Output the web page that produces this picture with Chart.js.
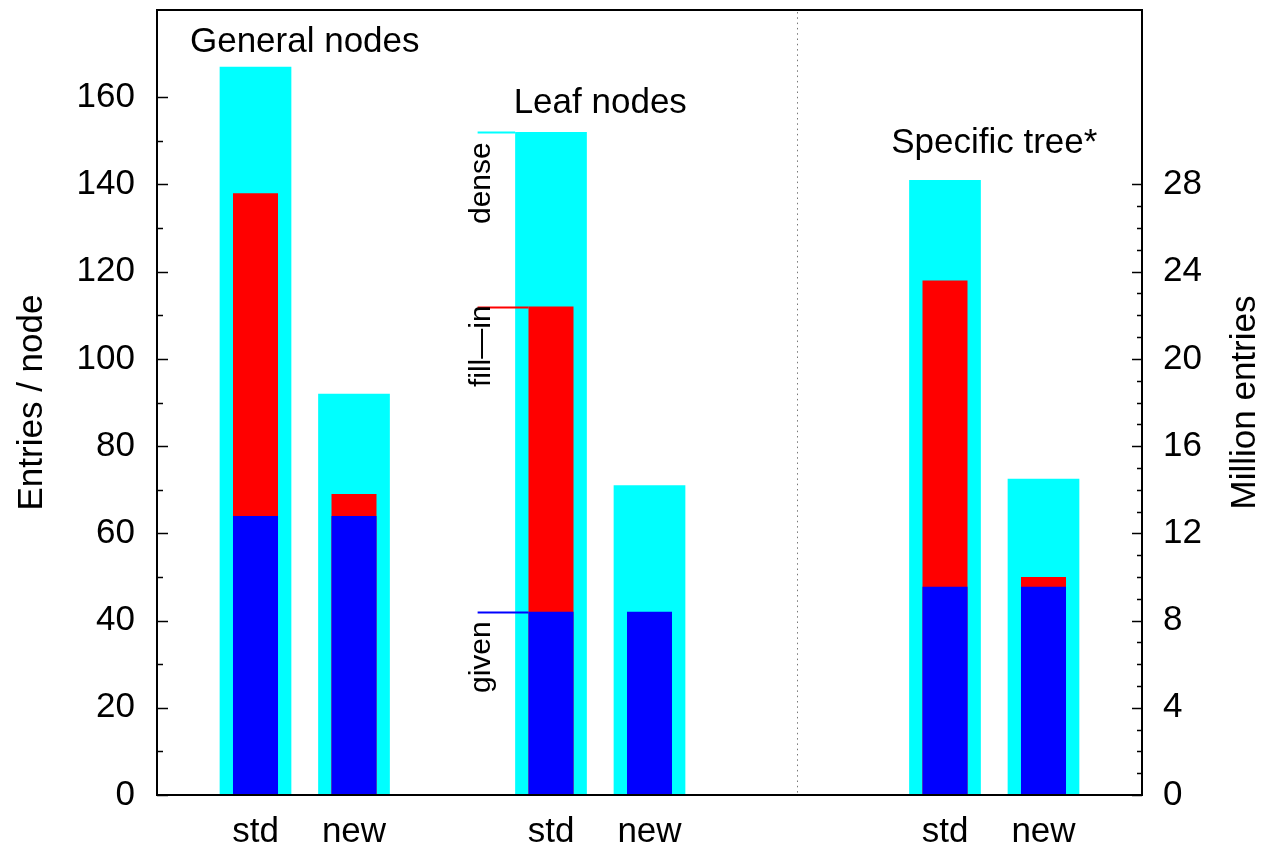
<!DOCTYPE html>
<html>
<head>
<meta charset="utf-8">
<script src="https://cdn.jsdelivr.net/npm/chart.js@4/dist/chart.umd.min.js"></script>
<style>
  html, body { margin: 0; padding: 0; background: #ffffff; }
  canvas { display: block; }
</style>
</head>
<body>
<canvas id="c" width="1263" height="850"></canvas>
<script>
// Category slots along the x axis (blank slots keep the groups apart)
const slotLabels = ['', 'std', 'new', '', 'std', 'new', '', '', 'std', 'new', ''];

// Entries per node (left axis): general nodes and leaf nodes
const denseEntries  = [null, 167, 92, null, 152, 71, null, null, null, null, null];
const fillInEntries = [null, 138, 69, null, 112, null, null, null, null, null, null];
const givenEntries  = [null, 64, 64, null, 42, 42, null, null, null, null, null];

// Million entries (right axis): specific tree
const denseMillions  = [null, null, null, null, null, null, null, null, 28.2, 14.5, null];
const fillInMillions = [null, null, null, null, null, null, null, null, 23.6, 10.0, null];
const givenMillions  = [null, null, null, null, null, null, null, null, 9.55, 9.55, null];

// Axis ticks
const leftTicks  = [0, 20, 40, 60, 80, 100, 120, 140, 160];
const rightTicks = [0, 4, 8, 12, 16, 20, 24, 28];

// Text drawn on the plot
const groupTitles = ['General nodes', 'Leaf nodes', 'Specific tree*'];
const partNames   = ['dense', 'fill\u2014in', 'given'];

const CYAN = '#00ffff', RED = '#ff0000', BLUE = '#0000ff';
const FONT = "'Liberation Sans', Arial, Helvetica, sans-serif";

// Where the annotation pieces sit, in slot / axis units
const titleAnchors = [
  { slot: 1.5, value: 170.3 },
  { slot: 4.5, value: 156.3 },
  { slot: 8.5, value: 147.2 }
];
const partAnchors = {
  slot: 4,             // the leaf "std" bar carries the part labels
  lineStart: 0.745,    // slots left of the bar centre
  textOffset: 0.70,
  lineValues: [152, 112, 42],
  textValues: [140.3, 102.9, 31.6],
  colors: [CYAN, RED, BLUE],
  datasets: [2, 1, 0]
};
const separatorSlot = 6.5;

function barSet(label, data, color, axis, width) {
  return {
    label, data, yAxisID: axis,
    backgroundColor: color, borderWidth: 0,
    barPercentage: width, categoryPercentage: 1,
    grouped: false
  };
}

function noEdgePadding(s) {
  s.paddingTop = 0; s.paddingBottom = 0;
  s.paddingLeft = 0; s.paddingRight = 0;
}

const decorations = {
  id: 'decorations',
  afterDatasetsDraw(chart) {
    const ctx = chart.ctx;
    const a = chart.chartArea;
    const xs = chart.scales.x, yl = chart.scales.y, yr = chart.scales.y2;
    const step = xs.getPixelForValue(1) - xs.getPixelForValue(0);
    ctx.save();

    // dotted separator
    const sx = Math.round(xs.getPixelForValue(separatorSlot)) + 0.5;
    ctx.strokeStyle = '#777777';
    ctx.lineWidth = 1;
    ctx.setLineDash([1.5, 3.8]);
    ctx.beginPath();
    ctx.moveTo(sx, a.top + 2);
    ctx.lineTo(sx, a.bottom);
    ctx.stroke();
    ctx.setLineDash([]);

    // inward tick marks, left axis (minor every 10)
    ctx.strokeStyle = '#000000';
    ctx.lineWidth = 1.5;
    for (let v = 0; v <= 160; v += 10) {
      const y = Math.round(yl.getPixelForValue(v)) + 0.5;
      const len = v % 20 === 0 ? 11 : 6;
      ctx.beginPath();
      ctx.moveTo(a.left, y);
      ctx.lineTo(a.left + len, y);
      ctx.stroke();
    }
    // right axis (minor every 1)
    for (let v = 0; v <= 28; v += 1) {
      const y = Math.round(yr.getPixelForValue(v)) + 0.5;
      const len = v % 4 === 0 ? 10 : 5;
      ctx.beginPath();
      ctx.moveTo(a.right, y);
      ctx.lineTo(a.right - len, y);
      ctx.stroke();
    }

    // frame
    ctx.lineWidth = 2;
    ctx.strokeRect(a.left, a.top, a.right - a.left, a.bottom - a.top);

    // group titles
    ctx.fillStyle = '#000000';
    ctx.font = '35px ' + FONT;
    ctx.textAlign = 'center';
    ctx.textBaseline = 'alphabetic';
    groupTitles.forEach((t, i) => {
      const an = titleAnchors[i];
      ctx.fillText(t, xs.getPixelForValue(an.slot), yl.getPixelForValue(an.value));
    });

    // part markers on the leaf "std" bar
    const cx = xs.getPixelForValue(partAnchors.slot);
    const x0 = cx - partAnchors.lineStart * step;
    ctx.lineWidth = 2;
    partNames.forEach((name, i) => {
      const meta = chart.getDatasetMeta(partAnchors.datasets[i]);
      const bar = meta.data[partAnchors.slot];
      const edge = bar.x - bar.width / 2;
      const y = Math.round(yl.getPixelForValue(partAnchors.lineValues[i])) + 0.5;
      ctx.strokeStyle = partAnchors.colors[i];
      ctx.beginPath();
      ctx.moveTo(x0, y);
      ctx.lineTo(edge, y);
      ctx.stroke();

      ctx.save();
      ctx.translate(cx - partAnchors.textOffset * step, yl.getPixelForValue(partAnchors.textValues[i]));
      ctx.rotate(-Math.PI / 2);
      ctx.font = '30px ' + FONT;
      ctx.fillStyle = '#000000';
      ctx.textAlign = 'center';
      ctx.textBaseline = 'middle';
      ctx.fillText(name, 0, 0);
      ctx.restore();
    });

    // right axis title, reading upward
    ctx.save();
    ctx.translate(1245, (a.top + a.bottom) / 2);
    ctx.rotate(-Math.PI / 2);
    ctx.font = '35px ' + FONT;
    ctx.fillStyle = '#000000';
    ctx.textAlign = 'center';
    ctx.textBaseline = 'middle';
    ctx.fillText('Million entries', 0, 0);
    ctx.restore();

    ctx.restore();
  }
};

new Chart(document.getElementById('c'), {
  type: 'bar',
  data: {
    labels: slotLabels,
    datasets: [
      barSet('given', givenEntries, BLUE, 'y', 0.457),
      barSet('fill-in', fillInEntries, RED, 'y', 0.457),
      barSet('dense', denseEntries, CYAN, 'y', 0.728),
      barSet('given (M)', givenMillions, BLUE, 'y2', 0.457),
      barSet('fill-in (M)', fillInMillions, RED, 'y2', 0.457),
      barSet('dense (M)', denseMillions, CYAN, 'y2', 0.728)
    ]
  },
  options: {
    responsive: false,
    animation: false,
    devicePixelRatio: 1,
    layout: { padding: { top: 10, left: 0, right: 0, bottom: 0 } },
    plugins: { legend: { display: false }, tooltip: { enabled: false } },
    scales: {
      x: {
        type: 'category',
        offset: false,
        grid: { display: false, drawTicks: false },
        border: { display: false },
        ticks: {
          autoSkip: false, maxRotation: 0, minRotation: 0,
          color: '#000000', padding: 16,
          font: { family: FONT, size: 35 }
        },
        afterFit(s) { s.height = 55; noEdgePadding(s); }
      },
      y: {
        position: 'left',
        min: 0, max: 180,
        grid: { display: false, drawTicks: false },
        border: { display: false },
        afterBuildTicks(s) { s.ticks = leftTicks.map(v => ({ value: v })); },
        ticks: {
          color: '#000000', padding: 22,
          font: { family: FONT, size: 35 }
        },
        title: {
          display: true, text: 'Entries / node', color: '#000000',
          font: { family: FONT, size: 35 },
          padding: { top: 11, bottom: 0 }
        },
        afterFit(s) { s.width = 157; noEdgePadding(s); }
      },
      y2: {
        position: 'right',
        min: 0, max: 36,
        grid: { display: false, drawTicks: false },
        border: { display: false },
        afterBuildTicks(s) { s.ticks = rightTicks.map(v => ({ value: v })); },
        ticks: {
          color: '#000000', padding: 21,
          font: { family: FONT, size: 35 }
        },
        afterFit(s) { s.width = 121; noEdgePadding(s); }
      }
    }
  },
  plugins: [decorations]
});
</script>
</body>
</html>
